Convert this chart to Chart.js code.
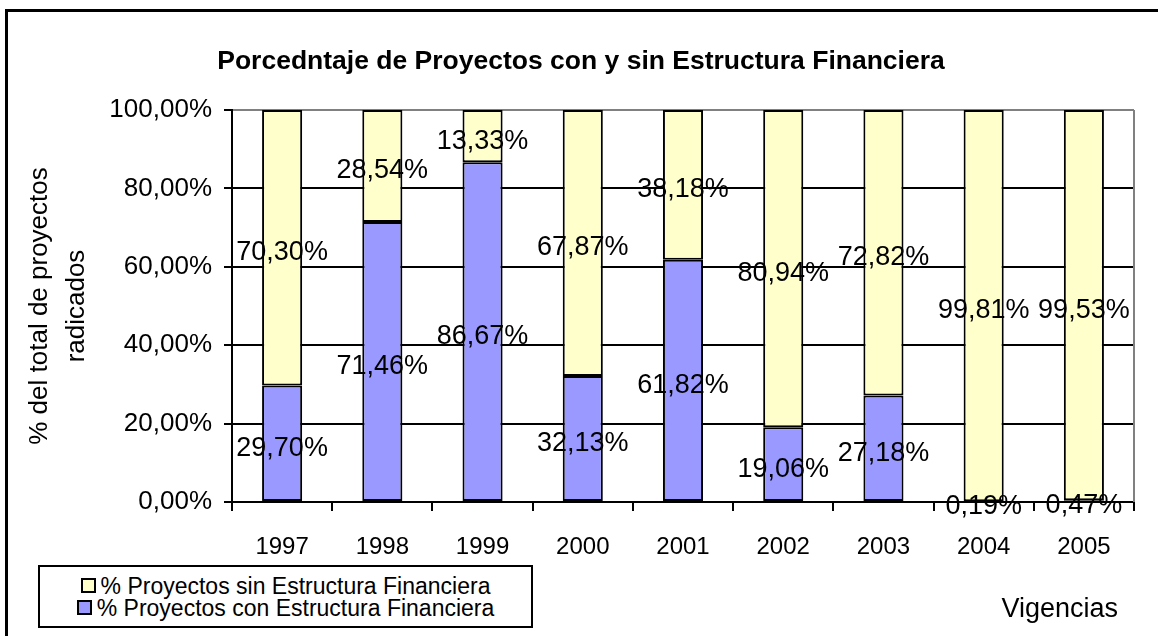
<!DOCTYPE html>
<html>
  <head>
    <meta charset="utf-8">
    <title>Porcedntaje de Proyectos con y sin Estructura Financiera</title>
    <script src="https://cdn.jsdelivr.net/npm/chart.js"></script>
    <style>
      body { margin: 0; background: #fff; font-family: "Liberation Sans", Arial, sans-serif; }
      #wrap { position: relative; width: 1158px; height: 636px; overflow: hidden; }
      #frame { position: absolute; left: 5px; top: 9px; width: 1170px; height: 640px; border: 3px solid #000; box-sizing: border-box; pointer-events: none; }
      #legend { position: absolute; left: 38px; top: 565px; width: 495px; height: 63px; border: 2px solid #000; box-sizing: border-box;
                display: flex; flex-direction: column; justify-content: center; align-items: center; background: #fff; }
      .row { font-size: 23px; line-height: 22px; color: #000; white-space: nowrap; display: flex; align-items: center; }
      .sw { width: 15px; height: 15px; border: 2px solid #000; box-sizing: border-box; margin-right: 5px; display: inline-block; }
    </style>
  </head>
  <body>
    <div id="wrap">
      <canvas id="chart" width="1158" height="636"></canvas>
      <div id="legend"></div>
      <div id="frame"></div>
    </div>

    <script>
      // data
      const years = ['1997', '1998', '1999', '2000', '2001', '2002', '2003', '2004', '2005'];
      const conEstructura = [29.70, 71.46, 86.67, 32.13, 61.82, 19.06, 27.18, 0.19, 0.47];
      const sinEstructura = [70.30, 28.54, 13.33, 67.87, 38.18, 80.94, 72.82, 99.81, 99.53];
      const yTicks = [0, 20, 40, 60, 80, 100];

      const chartTitle = 'Porcedntaje de Proyectos con y sin Estructura Financiera';
      const labelCon = '% Proyectos con Estructura Financiera';
      const labelSin = '% Proyectos sin Estructura Financiera';
      const colorCon = '#9999FF';
      const colorSin = '#FFFFCC';
      const FONT = '"Liberation Sans", Arial, sans-serif';

      const pct = v => v.toFixed(2).replace('.', ',') + '%';

      // legend (sin first, like the original)
      const legend = document.getElementById('legend');
      [[labelSin, colorSin], [labelCon, colorCon]].forEach(([txt, col]) => {
        const row = document.createElement('div');
        row.className = 'row';
        row.innerHTML = '<span class="sw" style="background:' + col + '"></span>' + txt;
        legend.appendChild(row);
      });

      // title, value labels, gray right border, x axis title
      const extras = {
        id: 'extras',
        afterDatasetsDraw(chart) {
          const ctx = chart.ctx;
          const area = chart.chartArea;
          ctx.save();
          ctx.strokeStyle = '#808080';
          ctx.lineWidth = 2;
          ctx.beginPath();
          ctx.moveTo(area.right, area.top);
          ctx.lineTo(area.right, area.bottom);
          ctx.stroke();

          ctx.fillStyle = '#000';
          ctx.textBaseline = 'middle';
          ctx.textAlign = 'center';
          ctx.font = 'bold 26.5px ' + FONT;
          ctx.fillText(chartTitle, 581, 62);

          ctx.font = '27px ' + FONT;
          chart.data.datasets.forEach((ds, di) => {
            chart.getDatasetMeta(di).data.forEach((bar, i) => {
              const mid = (bar.y + bar.base) / 2 + 5;
              ctx.fillText(pct(ds.data[i]), bar.x, mid);
            });
          });

          ctx.textAlign = 'right';
          ctx.fillText('Vigencias', area.right - 16, 610);
          ctx.restore();
        }
      };

      new Chart(document.getElementById('chart'), {
        type: 'bar',
        data: {
          labels: years,
          datasets: [
            { label: labelCon, data: conEstructura, backgroundColor: colorCon, borderColor: '#000', borderWidth: 2, borderSkipped: false },
            { label: labelSin, data: sinEstructura, backgroundColor: colorSin, borderColor: '#000', borderWidth: 2, borderSkipped: false }
          ]
        },
        plugins: [extras],
        options: {
          responsive: false,
          animation: false,
          layout: { padding: { top: 110, right: 24, left: 0, bottom: 0 } },
          datasets: { bar: { barPercentage: 0.4, categoryPercentage: 1.0 } },
          plugins: {
            legend: { display: false },
            tooltip: { enabled: false },
            title: { display: false }
          },
          scales: {
            x: {
              stacked: true,
              afterFit: s => { s.height = 134; },
              border: { color: '#000', width: 2 },
              grid: { offset: true, drawOnChartArea: false, color: '#000', lineWidth: 2, tickLength: 9 },
              ticks: { color: '#000', padding: 22, font: { family: FONT, size: 24 } }
            },
            y: {
              stacked: true,
              min: 0, max: 100,
              afterFit: s => { s.width = 232; },
              afterBuildTicks: s => { s.ticks = yTicks.map(v => ({ value: v })); },
              border: { color: '#000', width: 2 },
              grid: {
                color: c => (c.tick && c.tick.value === 100 ? '#808080' : '#000'),
                tickColor: '#000', lineWidth: 2, tickLength: 8
              },
              ticks: { color: '#000', padding: 12, font: { family: FONT, size: 26 }, callback: v => pct(v) },
              title: {
                display: true, text: ['% del total de proyectos', 'radicados'], color: '#000',
                font: { family: FONT, size: 26, lineHeight: 1.4 }, padding: { top: 22, bottom: 0 }
              }
            }
          }
        }
      });
    </script>
  </body>
</html>
